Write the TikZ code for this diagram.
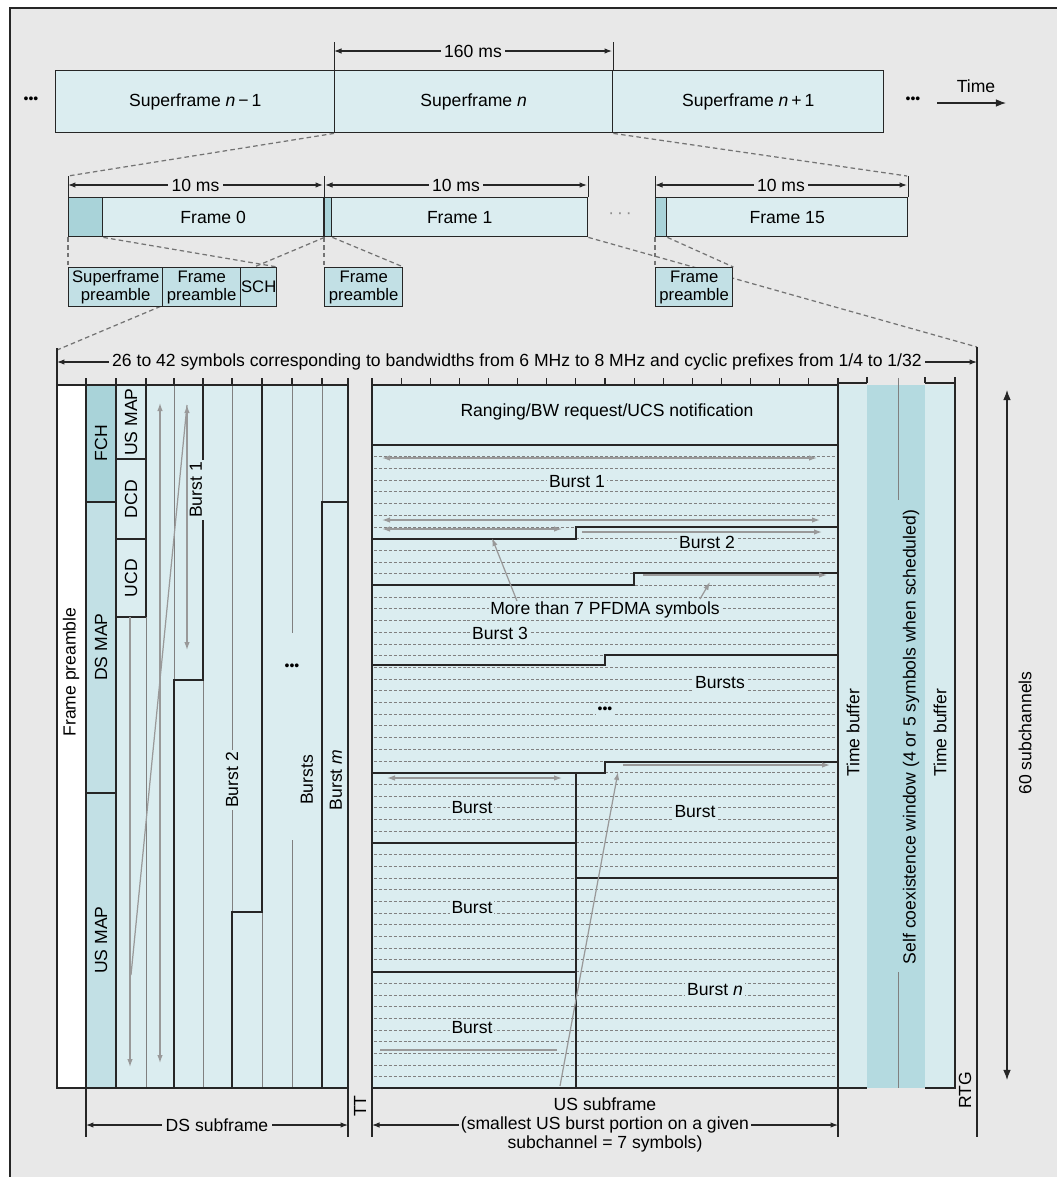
\documentclass[tikz,border=0pt]{standalone}
\usepackage{fontspec}
\setmainfont{Liberation Sans}
\usetikzlibrary{arrows.meta}
\definecolor{paper}{HTML}{E8E8E8}
\definecolor{pale}{HTML}{DBEDF0}
\definecolor{mid}{HTML}{C2E0E5}
\definecolor{deep}{HTML}{A9D3D9}
\definecolor{coex}{HTML}{B4DAE0}
\definecolor{guide}{HTML}{808080}

\begin{document}
\begin{tikzpicture}[x=0.02cm,y=-0.02cm,>=Latex,
    font=\fontsize{10}{11}\selectfont,
    bline/.style={draw=black!85,line width=0.8pt},
    faint/.style={draw=guide,line width=0.4pt},
    zoomline/.style={draw=black!55,line width=0.7pt,dash pattern=on 2.6pt off 1.8pt},
    hatch/.style={draw=guide,line width=0.4pt,dash pattern=on 1.7pt off 1.1pt},
    dimline/.style={{Latex[length=1.5mm,width=1.1mm]}-{Latex[length=1.5mm,width=1.1mm]},draw=black!85,line width=0.6pt},
    ptr/.style={draw=black!40,line width=0.7pt,-{Latex[length=1.6mm,width=1.1mm]}},
    dptr/.style={ptr,{Latex[length=1.6mm,width=1.1mm]}-{Latex[length=1.6mm,width=1.1mm]}},
    frm/.style 2 args={bline,fill=pale,minimum width=#1*0.02cm,minimum height=#2*0.02cm,inner sep=0pt,anchor=north west},
    prebox/.style 2 args={frm={#1}{#2},fill=mid,align=center,font=\fontsize{9.5}{10}\selectfont},
    lbl/.style={fill=pale,inner sep=1pt},
    vert/.style={rotate=90,inner sep=1pt},
    dots/.style={font=\fontsize{8}{8}\selectfont,inner sep=1pt}]
\useasboundingbox (0,0) rectangle (1057,1177);

% panel
\fill[paper] (10,8) rectangle (1057,1177);
\draw[bline] (10,1177) -- (10,8) -- (1057,8);

% superframes
\node[frm={279}{62}] (sfa) at (55,70) {Superframe {\itshape n}\,−\,1};
\node[frm={278}{62}] (sfb) at (334,70) {Superframe {\itshape n}};
\node[frm={271}{62}] (sfc) at (612,70) {Superframe {\itshape n}\,+\,1};
\node[dots] (dotsa) at (31,100) {•••};
\node[dots] (dotsb) at (913,100) {•••};
\node (time) at (976,86) {Time};
\coordinate (ta) at (937,103);
\coordinate (tb) at (1006,103);
\draw[bline,line width=0.6pt,->] (ta) -- (tb);

\coordinate (sm1) at (334,51);
\coordinate (sm2) at (612,51);
\draw[bline,line width=0.5pt] (sfb.north west) -- ++(0,-28);
\draw[bline,line width=0.5pt] (sfb.north east) -- ++(0,-28);
\draw[dimline] (sm1) -- node[fill=paper,inner sep=2pt] (t160) {160 ms} (sm2);

% frames
\node[frm={34}{39},fill=deep] (f0p) at (68,197) {};
\node[frm={221}{39}] (f0) at (102,197) {Frame 0};
\node[frm={7}{39},fill=deep] (f1p) at (324,197) {};
\node[frm={256}{39}] (f1) at (331,197) {Frame 1};
\node[frm={11}{39},fill=deep] (f15p) at (655,197) {};
\node[frm={241}{39}] (f15) at (666,197) {Frame 15};
\node[text=black!45] (fdots) at (620,216) {·\,·\,·};

\foreach \n in {f0p.north west,f1p.north west,f1.north east,f15p.north west,f15.north east}
  \draw[bline,line width=0.5pt] (\n) -- ++(0,-21);
\coordinate (d0a) at (68,185);   \coordinate (d0b) at (323,185);
\coordinate (d1a) at (325,185);  \coordinate (d1b) at (587,185);
\coordinate (d15a) at (655,185); \coordinate (d15b) at (907,185);
\draw[dimline] (d0a) -- node[fill=paper,inner sep=2pt] (t0) {10 ms} (d0b);
\draw[dimline] (d1a) -- node[fill=paper,inner sep=2pt] (t1) {10 ms} (d1b);
\draw[dimline] (d15a) -- node[fill=paper,inner sep=2pt] (t15) {10 ms} (d15b);

\coordinate (za) at (68,176);
\coordinate (zb) at (907,176);
\draw[zoomline] (sfb.south west) -- (za);
\draw[zoomline] (sfb.south east) -- (zb);

% zoom into frame 1
\coordinate (symL) at (57,362); \coordinate (symR) at (977,362);
\coordinate (zl) at (57,350);   \coordinate (zr) at (977,347);
\draw[zoomline] (f0.south east) -- (zl);
\draw[zoomline] (f1.south east) -- (zr);

% preambles
\node[prebox={94}{39}] (sp) at (68,267) {Superframe\\preamble};
\node[prebox={78}{39}] (fp0) at (162,267) {Frame\\preamble};
\node[prebox={36}{39}] (sch) at (240,267) {SCH};
\node[prebox={78}{39}] (fp1) at (324,267) {Frame\\preamble};
\node[prebox={77}{39}] (fp15) at (655,267) {Frame\\preamble};
\draw[zoomline] (f0p.south west) -- (sp.north west);
\draw[zoomline] (f0p.south east) -- (sch.north east);
\draw[zoomline] (f1p.south west) -- (fp1.north west);
\draw[zoomline] (f1p.south east) -- (fp1.north east);
\draw[zoomline] (f15p.south west) -- (fp15.north west);
\draw[zoomline] (f15p.south east) -- (fp15.north east);

\draw[dimline] (symL) -- node[fill=paper,inner sep=2pt] (symtxt) {26 to 42 symbols corresponding to bandwidths from 6 MHz to 8 MHz and cyclic prefixes from 1/4 to 1/32} (symR);

% DS subframe
\fill[white] (57,385) rectangle (86,1088);
\fill[deep] (86,385) rectangle (116,502);
\fill[mid] (86,502) rectangle (116,1088);
\fill[pale] (116,385) rectangle (348,1088);
\draw[faint] (146,617) -- (146,1088) (174,385) -- (174,680) (203,680) -- (203,1088)
  (232,385) -- (232,912) (262,912) -- (262,1088) (292,385) -- (292,633)
  (292,840) -- (292,1088) (322,385) -- (322,502);
\draw[bline] (57,348) -- (57,1088) -- (348,1088);
\draw[bline] (348,385) -- (348,1137);
\draw[bline] (86,385) -- (86,1137);
\draw[bline] (116,385) -- (116,1088);
\draw[bline] (86,502) -- (116,502) (86,793) -- (116,793);
\draw[bline] (146,385) -- (146,617) (116,459) -- (146,459) (116,539) -- (146,539) (116,617) -- (146,617);
\draw[bline] (203,385) -- (203,680) -- (174,680) -- (174,1088);
\draw[bline] (262,385) -- (262,912) -- (232,912) -- (232,1088);
\draw[bline] (322,1088) -- (322,502) -- (348,502);
\draw[bline] (57,385) -- (348,385);
\foreach \x in {57,86,116,146,174,203,232,262,292,322,348}
  \draw[bline,line width=0.6pt] (\x,385) -- (\x,378);

\draw[dptr] (160,403) -- (160,1063);
\draw[dptr] (187,405) -- (187,650);
\draw[ptr] (130,617) -- (130,1067);
\draw[ptr,-] (187,405) -- (131,975);

\node[vert] (fpre) at (71,672) {Frame preamble};
\node[vert] (fch) at (101,443) {FCH};
\node[vert] (dsmap) at (101,647) {DS MAP};
\node[vert] (usmap) at (101,940) {US MAP};
\node[vert] (usmapb) at (131,422) {US MAP};
\node[vert] (dcd) at (131,499) {DCD};
\node[vert] (ucd) at (131,578) {UCD};
\node[vert,fill=pale] (db1) at (196,490) {Burst 1};
\node[vert,fill=pale] (db2) at (232,780) {Burst 2};
\node[vert,fill=pale] (dbs) at (307,780) {Bursts};
\node[vert] (dbm) at (336,780) {Burst {\itshape m}};
\node[dots,fill=pale] (ddots) at (292,667) {•••};

% US subframe
\fill[pale] (372,385) rectangle (838,1088);
\foreach \k in {1,...,54}
  \draw[hatch] (374,{445+\k*11.7}) -- (836,{445+\k*11.7});
\draw[bline] (372,385) -- (372,1137);
\draw[bline] (838,385) -- (838,1137);
\draw[bline] (372,1088) -- (838,1088);
\draw[bline] (372,385) -- (838,385);
\draw[bline] (372,445) -- (838,445);
\draw[bline] (372,539) -- (576,539) -- (576,527) -- (838,527);
\draw[bline] (372,585) -- (634,585) -- (634,573) -- (838,573);
\draw[bline] (372,665) -- (605,665) -- (605,655) -- (838,655);
\draw[bline] (372,773) -- (605,773) -- (605,762) -- (838,762);
\draw[bline] (576,773) -- (576,1088);
\draw[bline] (372,843) -- (576,843) (372,972) -- (576,972) (576,878) -- (838,878);
\foreach \i in {0,...,16}
  \draw[bline,line width=0.6pt] ({372+\i*29.125},385) -- ({372+\i*29.125},378);

\draw[dptr] (382,458) -- (817,458);
\draw[dptr] (382,520) -- (820,520);
\draw[dptr] (382,529) -- (562,529);
\draw[ptr] (582,532) -- (822,532);
\draw[ptr] (643,575) -- (827,575);
\draw[ptr] (623,765) -- (830,765);
\draw[dptr] (387,778) -- (562,778);
\draw[ptr,-] (380,1050) -- (557,1050);
\draw[ptr] (560,1086) -- (618,772);

\node (rng) at (607,412) {Ranging/BW request/UCS notification};
\node[lbl] (b1) at (577,482) {Burst 1};
\node[lbl] (b2) at (707,542) {Burst 2};
\node[lbl] (more) at (605,610) {More than 7 PFDMA symbols};
\node[lbl] (b3) at (500,633) {Burst 3};
\node[lbl] (bs) at (720,683) {Bursts};
\node[dots,fill=pale] (udots) at (605,710) {•••};
\node[lbl] (bl1) at (472,808) {Burst};
\node[lbl] (br1) at (695,812) {Burst};
\node[lbl] (bl2) at (472,908) {Burst};
\node[lbl] (bn) at (715,990) {Burst {\itshape n}};
\node[lbl] (bl3) at (472,1028) {Burst};
\draw[ptr] (517,601) -- (492,538);
\draw[ptr] (700,599) -- (710,582);

% time buffers and coexistence window
\fill[pale!85!mid] (838,385) rectangle (867,1088);
\fill[coex] (867,385) rectangle (925,1088);
\fill[pale!85!mid] (925,385) rectangle (955,1088);
\draw[faint] (898,378) -- (898,500) (898,972) -- (898,1088);
\draw[bline] (838,385) -- (838,1088);
\draw[bline] (955,383) -- (955,1088) -- (925,1088);
\draw[bline] (838,1088) -- (867,1088);
\draw[bline] (838,383) -- (867,383) (925,383) -- (955,383);
\foreach \x in {867,925,955}
  \draw[bline,line width=0.6pt] (\x,383) -- (\x,377);
\node[vert] (tbuf1) at (853,733) {Time buffer};
\node[vert] (coexw) at (911,737) {Self coexistence window (4 or 5 symbols when scheduled)};
\node[vert] (tbuf2) at (940,733) {Time buffer};
\draw[bline] (977,347) -- (977,1137);
\node[vert] (rtg) at (965,1090) {RTG};
\coordinate (sc1) at (1007,390);
\coordinate (sc2) at (1007,1080);
\draw[bline,line width=0.6pt,<->] (sc1) -- (sc2);
\node[vert] (subch) at (1025,733) {60 subchannels};

% bottom dimensions
\coordinate (dsa) at (86,1125);  \coordinate (dsb) at (348,1125);
\coordinate (usa) at (372,1125); \coordinate (usb) at (838,1125);
\draw[dimline] (dsa) -- node[fill=paper,inner sep=2pt] (dsl) {DS subframe} (dsb);
\node[vert] (tt) at (360,1106) {TT};
\draw[dimline] (usa) -- node[fill=paper,inner sep=1pt,align=center,font=\fontsize{10}{11}\selectfont] (usl)
  {US subframe\\(smallest US burst portion on a given\\subchannel = 7 symbols)} (usb);
\end{tikzpicture}
\end{document}
